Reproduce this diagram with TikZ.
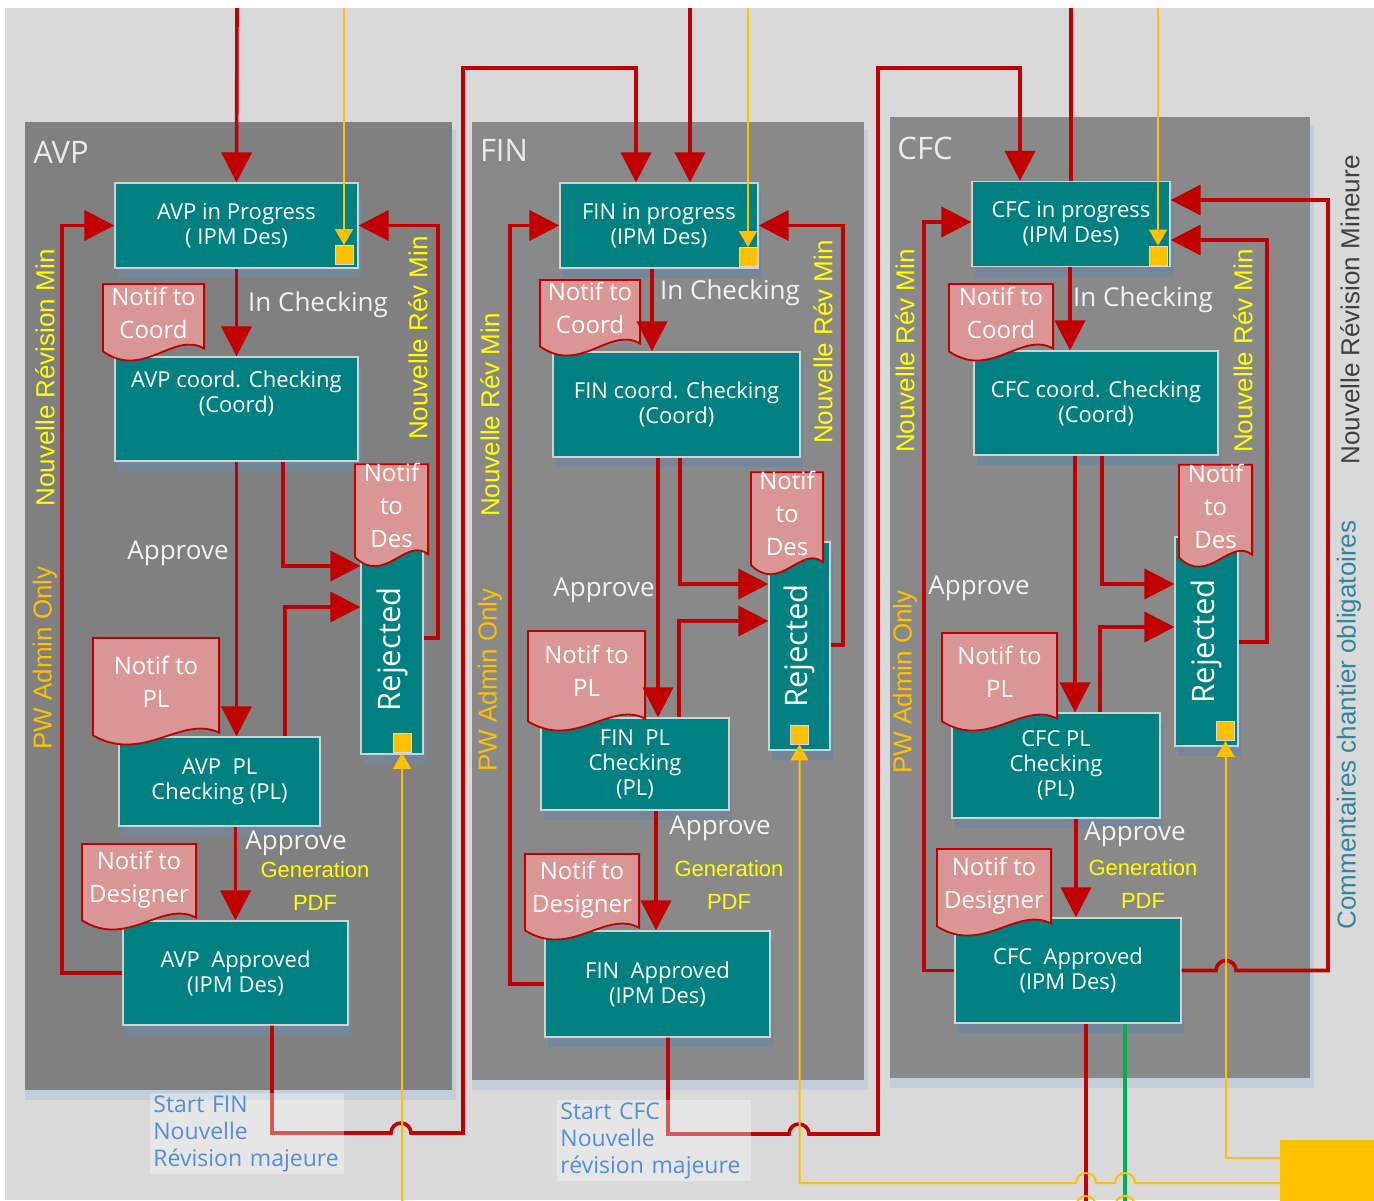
\documentclass[tikz,border=0pt]{standalone}
\usepackage{fontspec}
\setmainfont{Open Sans}
\newfontfamily\arialfont{Liberation Sans}
\usepackage{graphicx}
\usetikzlibrary{arrows.meta,shadows,calc}

\definecolor{bggray}{HTML}{D9D9D9}
\definecolor{panelgray}{HTML}{808080}
\definecolor{panelgraylt}{HTML}{898989}
\definecolor{panelshade}{HTML}{C3CEDA}
\definecolor{tealbox}{HTML}{008080}
\definecolor{boxshade}{HTML}{74879A}
\definecolor{flowred}{HTML}{C00000}
\definecolor{notifpink}{HTML}{D99694}
\definecolor{revyellow}{HTML}{FFFF00}
\definecolor{gold}{HTML}{FFC000}
\definecolor{startblue}{HTML}{558ED5}
\definecolor{cmtteal}{HTML}{31859C}
\definecolor{mingray}{HTML}{404040}
\definecolor{flowgreen}{HTML}{00B050}

\newcommand\notifpad{\\[-6pt]\mbox{}}

\begin{document}
\begin{tikzpicture}[x=0.5pt,y=-0.5pt,
  box/.style={fill=tealbox,draw=gray!35,line width=0.6pt,text=white,align=center,inner sep=0pt,
    font=\fontsize{11}{12.5}\selectfont,
    drop shadow={shadow xshift=1.5pt,shadow yshift=-5pt,fill=boxshade,opacity=1}},
  rej/.style={box,font=\fontsize{15.5}{18}\selectfont},
  notif/.style={text=white,align=center,inner sep=0pt,font=\fontsize{12}{16.5}\selectfont,
    path picture={\path[fill=notifpink,draw=flowred,line width=0.9pt]
      let \p1=([shift={(0.45pt,0.45pt)}]path picture bounding box.south west),
          \p2=([shift={(-0.45pt,-0.45pt)}]path picture bounding box.north east)
      in (\x1,\y2) -- (\x2,\y2) -- (\x2,{\y1+6.75pt})
         .. controls ({\x2-0.3*(\x2-\x1)},{\y1+15.75pt}) and ({\x1+0.4*(\x2-\x1)},{\y1-9pt}) .. (\x1,{\y1+5.4pt})
         -- cycle;}},
  sq/.style={fill=gold,draw=gray!30,line width=0.4pt,minimum width=9pt,minimum height=9.5pt,inner sep=0pt},
  flow/.style={draw=flowred,line width=1.8pt,-{Triangle[width=15pt,length=15pt]}},
  redline/.style={draw=flowred,line width=1.8pt},
  greenline/.style={draw=flowgreen,line width=1.7pt},
  yflow/.style={draw=gold,line width=1pt,-{Triangle[width=9pt,length=8pt]}},
  ptitle/.style={text=white!92!black,font=\fontsize{15.5}{18}\selectfont},
  lbl/.style={text=white!95!black,font=\fontsize{13}{15}\selectfont},
  pdflbl/.style={text=revyellow,align=center,font=\arialfont\fontsize{11}{16.5}\selectfont},
  revlbl/.style={text=revyellow,rotate=90,font=\arialfont\fontsize{13}{15}\selectfont},
  admlbl/.style={revlbl,text=gold},
  starttxt/.style={anchor=north west,align=left,text width=94pt,inner xsep=1.5pt,inner ysep=1pt,
    fill=white,fill opacity=0.35,text opacity=1,text=startblue,font=\fontsize{11.5}{13.5}\selectfont}]

\useasboundingbox (0,0) rectangle (1374,1200);
\fill[bggray] (5,8) rectangle (1374,1200);

% panels
\fill[panelshade] (25,130) rectangle (456,1100);
\fill[panelgray] (25,122) rectangle (452,1090);
\fill[panelshade] (472,130) rectangle (868,1090);
\fill[panelgraylt] (472,122) rectangle (864,1080);
\fill[panelshade] (890,125) rectangle (1314,1088);
\fill[panelgraylt] (890,117) rectangle (1310,1078);
\node[ptitle] (avpT) at (61,152) {AVP};
\node[ptitle] (finT) at (504,150) {FIN};
\node[ptitle] (cfcT) at (925,148) {CFC};

% AVP
\node[box,minimum width=121.5pt,minimum height=42.5pt] (avpProg) at (236.5,225.5) {AVP in Progress\\( IPM Des)};
\node[box,minimum width=121.5pt,minimum height=52pt] (avpCoord) at (236.5,409) {AVP coord. Checking\\(Coord)\\[4.5pt]\mbox{}};
\node[box,minimum width=100.5pt,minimum height=44.5pt] (avpPL) at (219.5,781.5) {AVP\ \ PL\\Checking (PL)};
\node[box,minimum width=112.5pt,minimum height=52pt] (avpAppr) at (235.5,973) {AVP\ \ Approved\\(IPM Des)};
\node[rej,minimum width=31pt,minimum height=104.5pt] (avpRej) at (392,649.5) {\rotatebox{90}{Rejected}};
\node[sq] (avpSq1) at (344,255) {};
\node[sq] (avpSq2) at (402,743) {};
\node[notif,minimum width=51.5pt,minimum height=40pt] (avpNC) at (153.5,323) {Notif to\\Coord\notifpad};
\node[notif,minimum width=37.5pt,minimum height=51pt] (avpND) at (391.5,516) {Notif\\to\\Des\notifpad};
\node[notif,minimum width=64pt,minimum height=55pt] (avpNP) at (156,692) {Notif to\\PL\notifpad};
\node[notif,minimum width=58pt,minimum height=44.5pt] (avpNDe) at (139,887.5) {Notif to\\Designer\notifpad};

% FIN
\node[box,minimum width=99pt,minimum height=42.5pt] (finProg) at (659,225.5) {FIN in progress\\(IPM Des)};
\node[box,minimum width=123.5pt,minimum height=52.5pt] (finCoord) at (676.5,404.5) {FIN coord. Checking\\(Coord)};
\node[box,minimum width=94pt,minimum height=46pt] (finPL) at (635,764) {FIN\ \ PL\\Checking\\(PL)};
\node[box,minimum width=112.5pt,minimum height=53pt] (finAppr) at (657.5,984) {FIN\ \ Approved\\(IPM Des)};
\node[rej,minimum width=30.5pt,minimum height=104pt] (finRej) at (799.5,646) {\rotatebox{90}{Rejected}};
\node[sq] (finSq1) at (748,257) {};
\node[sq] (finSq2) at (799.5,734.5) {};
\node[notif,minimum width=51pt,minimum height=39.5pt] (finNC) at (590,318.5) {Notif to\\Coord\notifpad};
\node[notif,minimum width=37pt,minimum height=51pt] (finND) at (787,524) {Notif\\to\\Des\notifpad};
\node[notif,minimum width=59.5pt,minimum height=51.5pt] (finNP) at (586.5,681.5) {Notif to\\PL\notifpad};
\node[notif,minimum width=58pt,minimum height=44.5pt] (finNDe) at (582,897.5) {Notif to\\Designer\notifpad};

% CFC
\node[box,minimum width=99pt,minimum height=42.5pt] (cfcProg) at (1071,224) {CFC in progress\\(IPM Des)};
\node[box,minimum width=122pt,minimum height=52pt] (cfcCoord) at (1096,403) {CFC coord. Checking\\(Coord)};
\node[box,minimum width=104pt,minimum height=52.5pt] (cfcPL) at (1056,765.5) {CFC PL\\Checking\\(PL)};
\node[box,minimum width=113pt,minimum height=52.5pt] (cfcAppr) at (1068,970.5) {CFC\ \ Approved\\(IPM Des)};
\node[rej,minimum width=31.5pt,minimum height=104.5pt] (cfcRej) at (1206.5,641.5) {\rotatebox{90}{Rejected}};
\node[sq] (cfcSq1) at (1158,255.5) {};
\node[sq] (cfcSq2) at (1225.5,731) {};
\node[notif,minimum width=53pt,minimum height=40pt] (cfcNC) at (1001,323) {Notif to\\Coord\notifpad};
\node[notif,minimum width=37.5pt,minimum height=51.5pt] (cfcND) at (1215.5,516.5) {Notif\\to\\Des\notifpad};
\node[notif,minimum width=58.5pt,minimum height=50.5pt] (cfcNP) at (999.5,682.5) {Notif to\\PL\notifpad};
\node[notif,minimum width=58pt,minimum height=45pt] (cfcNDe) at (994,893) {Notif to\\Designer\notifpad};

\node[fill=gold,minimum width=50pt,minimum height=45pt,inner sep=0pt,anchor=north west] (yBox) at (1280,1140) {};

\coordinate (avpIn) at (237,8);
\coordinate (avpYin) at (344,8);
\coordinate (finIn) at (690,8);
\coordinate (finYin) at (748,8);
\coordinate (cfcIn) at (1071,8);
\coordinate (cfcYin) at (1158,8);
\coordinate (cfcOutR) at (1086,1215);
\coordinate (cfcOutG) at (1125,1215);

% AVP flows
\draw[flow] (avpIn) -- (avpProg.north);
\draw[yflow] (avpYin) -- (avpSq1.north);
\draw[flow] (avpProg.south) -- (avpCoord.north);
\draw[flow] (avpCoord.south) -- (avpCoord.south |- avpPL.north);
\draw[flow] (avpCoord.south -| 283,0) |- (avpRej.west |- 0,566);
\draw[flow] (avpPL.north -| 285,0) |- (avpRej.west |- 0,607);
\draw[flow] (avpAppr.north |- avpPL.south) -- (avpAppr.north);
\draw[flow] (avpRej.east |- 0,638) -- (438,638) |- (avpProg.east);
\draw[flow] (avpAppr.west) -- (62,973) |- (avpProg.west);
\draw[flow] (avpAppr.south -| 272,0) -- (272,1133) -- (391,1133) arc[start angle=180,end angle=360,radius=10]
  -- (463,1133) -- (463,68) -| (finProg.north -| 636,0);

% FIN flows
\draw[flow] (finIn) -- (finProg.north -| finIn);
\draw[yflow] (finYin) -- (finSq1.north);
\draw[flow] (finProg.south -| 652,0) -- (finCoord.north -| 652,0);
\draw[flow] (finCoord.south -| 658,0) -- (finPL.north -| 658,0);
\draw[flow] (finCoord.south -| 680,0) |- (finRej.west |- 0,584);
\draw[flow] (finPL.north -| 679,0) |- (finRej.west |- 0,621);
\draw[flow] (finPL.south -| 656,0) -- (finAppr.north -| 656,0);
\draw[flow] (finRej.east |- 0,645) -- (843,645) |- (finProg.east);
\draw[flow] (finAppr.west) -- (510,984) |- (finProg.west);
\draw[flow] (finAppr.south -| 668,0) -- (668,1134) -- (789,1134) arc[start angle=180,end angle=360,radius=10]
  -- (878,1134) -- (878,68) -| (cfcProg.north -| 1020,0);

% CFC flows
\draw[redline] (cfcIn) -- (cfcProg.north);
\draw[yflow] (cfcYin) -- (cfcSq1.north);
\draw[flow] (cfcProg.south -| 1070,0) -- (cfcCoord.north -| 1070,0);
\draw[flow] (cfcCoord.south -| 1075,0) -- (cfcPL.north -| 1075,0);
\draw[flow] (cfcCoord.south -| 1102,0) |- (cfcRej.west |- 0,584);
\draw[flow] (cfcPL.north -| 1100,0) |- (cfcRej.west |- 0,627);
\draw[flow] (cfcPL.south -| 1076,0) -- (cfcAppr.north -| 1076,0);
\draw[flow] (cfcRej.east |- 0,642) -- (1267,642) |- (cfcProg.east |- 0,240);
\draw[flow] (cfcAppr.west) -- (924,970.5) |- (cfcProg.west |- 0,222);
\draw[flow] (cfcAppr.east) -- (1216,970.5) arc[start angle=180,end angle=360,radius=10]
  -- (1328,970.5) |- (cfcProg.east |- 0,200);
\draw[redline] (cfcAppr.south -| cfcOutR) -- (cfcOutR);
\draw[greenline] (cfcAppr.south -| cfcOutG) -- (cfcOutG);

% comments back to the Rejected states
\draw[yflow] (yBox.west |- 0,1158) -| (cfcSq2.south);
\draw[yflow] (yBox.west |- 0,1183) -- (1135,1183) arc[start angle=0,end angle=-180,radius=10]
  -- (1096,1183) arc[start angle=0,end angle=-180,radius=10] -- (finSq2.south |- 0,1183) -- (finSq2.south);
\draw[yflow] (yBox.west |- 0,1206) -- (1135,1206) arc[start angle=0,end angle=-180,radius=10]
  -- (1096,1206) arc[start angle=0,end angle=-180,radius=10] -- (avpSq2.south |- 0,1206) -- (avpSq2.south);

% labels
\node[lbl] (avpChk) at (318,305) {In Checking};
\node[lbl] (avpOk1) at (178,553) {Approve};
\node[lbl] (avpOk2) at (296,843) {Approve};
\node[pdflbl] (avpPdf) at (315,886) {Generation\\PDF};
\node[lbl] (finChk) at (730,293) {In Checking};
\node[lbl] (finOk1) at (604,590) {Approve};
\node[lbl] (finOk2) at (720,828) {Approve};
\node[pdflbl] (finPdf) at (729,885) {Generation\\PDF};
\node[lbl] (cfcChk) at (1143,300) {In Checking};
\node[lbl] (cfcOk1) at (979,588) {Approve};
\node[lbl] (cfcOk2) at (1135,834) {Approve};
\node[pdflbl] (cfcPdf) at (1143,884) {Generation\\PDF};

\node[revlbl] (avpRevL) at (45,378) {Nouvelle Révision Min};
\node[admlbl] (avpAdm) at (45,658) {PW Admin Only};
\node[revlbl] (avpRevR) at (418,338) {Nouvelle Rév Min};
\node[revlbl] (finRevL) at (490,415) {Nouvelle Rév Min};
\node[admlbl] (finAdm) at (490,680) {PW Admin Only};
\node[revlbl] (finRevR) at (823,342) {Nouvelle Rév Min};
\node[revlbl] (cfcRevL) at (905,351) {Nouvelle Rév Min};
\node[admlbl] (cfcAdm) at (905,682) {PW Admin Only};
\node[revlbl] (cfcRevR) at (1243,351) {Nouvelle Rév Min};
\node[revlbl,text=mingray] (minLbl) at (1350,310) {Nouvelle Révision Mineure};
\node[revlbl,text=cmtteal] (cmtLbl) at (1349,725) {Commentaires chantier obligatoires};

\node[starttxt] (startFin) at (150,1093) {Start FIN\\Nouvelle\\Révision majeure};
\node[starttxt] (startCfc) at (557,1100) {Start CFC\\Nouvelle\\révision majeure};
\end{tikzpicture}
\end{document}
